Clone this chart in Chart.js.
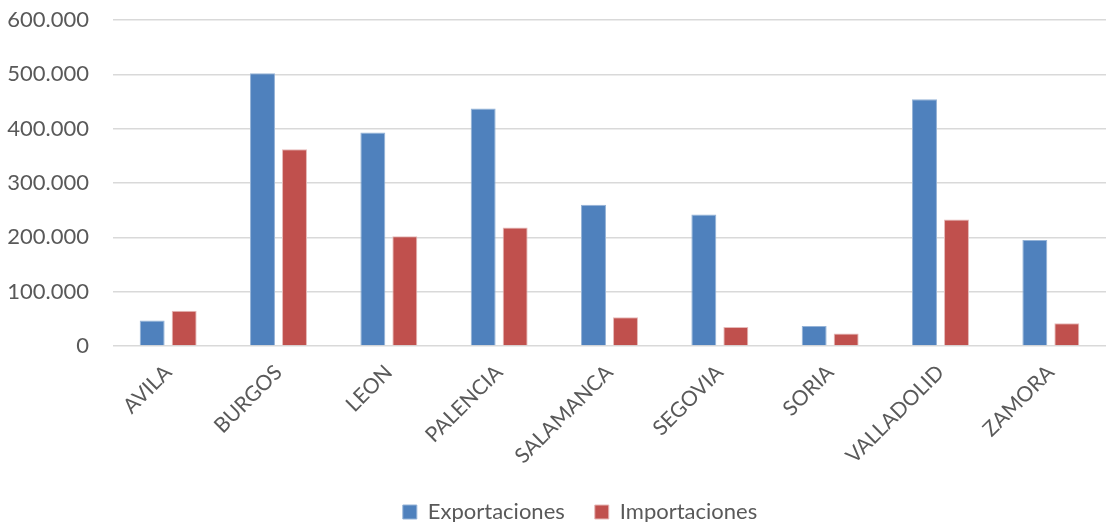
<!DOCTYPE html>
<html>
<head>
<meta charset="utf-8">
<script src="https://cdn.jsdelivr.net/npm/chart.js@4"></script>
<style>
  html, body { margin: 0; padding: 0; background: #fff; }
  #wrap { width: 1108px; height: 522px; }
</style>
</head>
<body>
<div id="wrap"><canvas id="myChart" width="1108" height="522"></canvas></div>
<script>
// provinces and values
var provincias = ['AVILA', 'BURGOS', 'LEON', 'PALENCIA', 'SALAMANCA', 'SEGOVIA', 'SORIA', 'VALLADOLID', 'ZAMORA'];
var exportaciones = [47000, 502000, 393000, 437000, 260000, 242000, 37000, 454000, 195000];
var importaciones = [65000, 362000, 202000, 218000, 53000, 35000, 23000, 233000, 42000];
var yTicks = [0, 100000, 200000, 300000, 400000, 500000, 600000];

// 600000 -> 600.000
var formatMiles = function(v) {
  return String(v).replace(/\B(?=(\d{3})+(?!\d))/g, '.');
};

var textColor = '#595959';
var fontFam = 'Lato, "Liberation Sans", sans-serif';

// legend sits a bit right of the canvas centre in the original
var legendShift = {
  id: 'legendShift',
  afterLayout: function(chart) {
    var lg = chart.legend;
    if (!lg) return;
    lg.left += 27;
    lg.right += 27;
  }
};

var ctx = document.getElementById('myChart').getContext('2d');
var myChart = new Chart(ctx, {
  type: 'bar',
  data: {
    labels: provincias,
    datasets: [{
      label: 'Exportaciones',
      data: exportaciones,
      backgroundColor: '#4F81BD',
      borderColor: '#95B3D7',
      borderWidth: 1
    }, {
      label: 'Importaciones',
      data: importaciones,
      backgroundColor: '#C0504D',
      borderColor: '#E6B9B8',
      borderWidth: 1
    }]
  },
  plugins: [legendShift],
  options: {
    responsive: false,
    animation: false,
    categoryPercentage: 0.58,
    barPercentage: 0.78,
    layout: {
      padding: { top: 20, right: 2, left: 0, bottom: -11 }
    },
    plugins: {
      tooltip: { enabled: false },
      legend: {
        position: 'bottom',
        labels: {
          color: textColor,
          font: { family: fontFam, size: 22 },
          boxWidth: 14,
          boxHeight: 14,
          padding: 30
        }
      }
    },
    scales: {
      x: {
        grid: { display: false },
        border: { display: false },
        ticks: {
          color: textColor,
          font: { family: fontFam, size: 21 },
          maxRotation: 45,
          minRotation: 45,
          padding: 6
        },
        afterFit: function(scale) { scale.height = 125; }
      },
      y: {
        min: 0,
        max: 600000,
        border: { display: false },
        grid: { color: '#D9D9D9', lineWidth: 1.5, drawTicks: true, tickLength: 24, tickColor: 'rgba(0,0,0,0)' },
        afterBuildTicks: function(scale) {
          scale.ticks = yTicks.map(function(v) { return { value: v }; });
        },
        afterFit: function(scale) { scale.width = 113; },
        ticks: {
          color: textColor,
          font: { family: fontFam, size: 22 },
          padding: 0,
          callback: function(v) { return formatMiles(v); }
        }
      }
    }
  }
});
</script>
</body>
</html>
